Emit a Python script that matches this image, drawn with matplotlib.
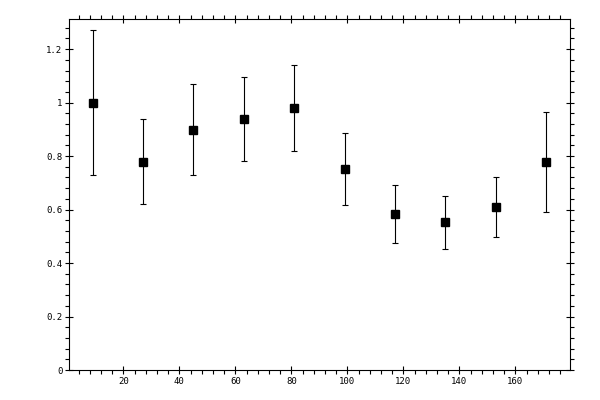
import matplotlib
matplotlib.use("Agg")
import matplotlib.pyplot as plt
from matplotlib.ticker import MultipleLocator, FuncFormatter

x = [9, 27, 45, 63, 81, 99, 117, 135, 153, 171]
y = [0.999, 0.777, 0.897, 0.938, 0.979, 0.750, 0.582, 0.552, 0.608, 0.777]
y_hi = [1.270, 0.938, 1.069, 1.095, 1.140, 0.885, 0.691, 0.649, 0.721, 0.964]
y_lo = [0.729, 0.621, 0.729, 0.780, 0.819, 0.616, 0.475, 0.451, 0.497, 0.590]

err_lo = [a - b for a, b in zip(y, y_lo)]
err_hi = [b - a for a, b in zip(y, y_hi)]

fig = plt.figure(figsize=(6, 4), dpi=100)
ax = fig.add_axes([0.1155, 0.075, 0.835, 0.877])

ax.errorbar(x, y, yerr=[err_lo, err_hi], fmt='s', color='black', ecolor='black',
            markersize=5.2, elinewidth=0.8, capsize=2.5, capthick=0.8)

ax.set_xlim(0.7, 179.6)
ax.set_ylim(0.0, 1.312)

ax.xaxis.set_major_locator(MultipleLocator(20))
ax.xaxis.set_minor_locator(MultipleLocator(4))
ax.yaxis.set_major_locator(MultipleLocator(0.2))
ax.yaxis.set_minor_locator(MultipleLocator(0.04))

fmt = FuncFormatter(lambda v, p: ('%g' % round(v, 6)) if abs(v) > 1e-9 else '0')
ax.xaxis.set_major_formatter(fmt)
ax.yaxis.set_major_formatter(fmt)

ax.tick_params(which='major', direction='inout', length=6, width=0.8,
               top=True, right=True, labelsize=6.5, pad=2)
ax.tick_params(which='minor', direction='out', length=2.8, width=0.8,
               top=True, right=True)
for lab in ax.get_xticklabels() + ax.get_yticklabels():
    lab.set_fontfamily('DejaVu Sans Mono')

for s in ax.spines.values():
    s.set_linewidth(0.8)

fig.savefig('out.png', dpi=100)
